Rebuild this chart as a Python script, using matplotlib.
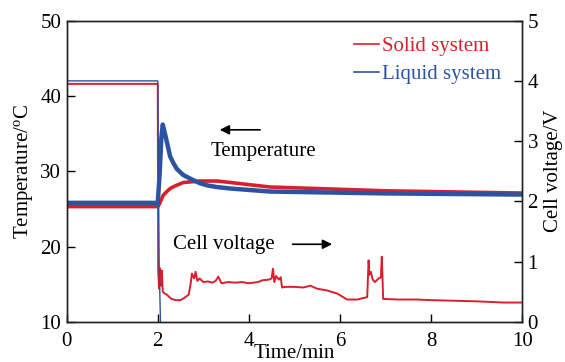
import matplotlib.pyplot as plt

plt.rcParams['font.family'] = ['Liberation Serif', 'DejaVu Serif']
plt.rcParams['mathtext.fontset'] = 'stix'

RED = '#d8202c'
BLUE = '#2b53a2'

# cell temperature (degC) vs time (min)
t_temp_solid = [0, 0.5, 1.0, 1.5, 2.0, 2.04, 2.12, 2.2, 2.27, 2.4, 2.56, 2.75, 2.93, 3.1, 3.3,
                3.6, 4.03, 4.47, 5.0, 5.5, 6.0, 7.0, 8.0, 9.0, 10]
temp_solid = [25.3, 25.3, 25.3, 25.3, 25.3, 25.7, 26.8, 27.3, 27.7, 28.1, 28.5, 28.6, 28.7, 28.7, 28.7,
              28.5, 28.2, 27.9, 27.8, 27.7, 27.6, 27.4, 27.3, 27.2, 27.1]

t_temp_liquid = [0, 0.5, 1.0, 1.5, 2.0, 2.04, 2.08, 2.11, 2.15, 2.2, 2.27, 2.35, 2.42, 2.56, 2.75,
                 2.93, 3.1, 3.3, 3.6, 4.03, 4.47, 5.0, 5.5, 6.0, 7.0, 8.0, 9.0, 10]
temp_liquid = [25.8, 25.8, 25.8, 25.8, 25.8, 29.5, 34.5, 36.2, 35.2, 33.9, 32.0, 31.0, 30.3, 29.5, 28.9,
               28.4, 28.1, 27.9, 27.7, 27.5, 27.3, 27.25, 27.2, 27.15, 27.05, 27.0, 26.95, 26.9]

# cell voltage (V) vs time (min)
t_volt_solid = [0, 2.0, 2.01, 2.03, 2.05, 2.07, 2.09, 2.11, 2.15, 2.2, 2.3, 2.4, 2.5, 2.57, 2.68,
                2.72, 2.75, 2.8, 2.83, 2.87, 2.92, 3.0, 3.1, 3.2, 3.27, 3.33, 3.4, 3.55, 3.7,
                3.85, 4.0, 4.2, 4.3, 4.44, 4.5, 4.53, 4.56, 4.6, 4.66, 4.7, 4.73, 4.8, 5.0,
                5.2, 5.35, 5.5, 5.72, 5.94, 6.16, 6.38, 6.6, 6.63, 6.65, 6.68, 6.72, 6.77,
                6.85, 6.9, 6.92, 6.95, 7.3, 7.7, 8.0, 8.5, 9.0, 9.3, 9.6, 10]
volt_solid = [3.95, 3.95, 0.85, 0.55, 0.89, 0.60, 0.85, 0.50, 0.47, 0.45, 0.38, 0.36, 0.36, 0.39, 0.45,
              0.62, 0.80, 0.72, 0.83, 0.68, 0.72, 0.66, 0.67, 0.65, 0.68, 0.75, 0.64, 0.66, 0.65,
              0.66, 0.64, 0.66, 0.69, 0.70, 0.72, 0.88, 0.66, 0.76, 0.70, 0.74, 0.57, 0.58, 0.58,
              0.57, 0.60, 0.55, 0.52, 0.47, 0.37, 0.37, 0.41, 1.02, 0.78, 0.83, 0.70, 0.66,
              0.72, 0.74, 1.08, 0.38, 0.37, 0.37, 0.36, 0.35, 0.34, 0.33, 0.32, 0.32]

t_volt_liquid = [0, 2.0, 2.03, 2.06]
volt_liquid = [4.0, 4.0, 1.0, 0.0]

fig = plt.figure(figsize=(5.65, 3.62), dpi=100)
ax = fig.add_axes([0.118, 0.111, 0.806, 0.832])
ax2 = ax.twinx()

ax2.plot(t_volt_solid, volt_solid, color=RED, lw=1.4)
ax2.plot(t_volt_liquid, volt_liquid, color=BLUE, lw=1.0)

ax.plot(t_temp_solid, temp_solid, color=RED, lw=2.6, label='Solid system')
ax.plot(t_temp_liquid, temp_liquid, color=BLUE, lw=3.2, label='Liquid system')

ax.set_xlim(0, 10)
ax.set_ylim(10, 50)
ax2.set_ylim(0, 5)
ax.set_xticks([0, 2, 4, 6, 8, 10])
ax.set_yticks([10, 20, 30, 40, 50])
ax2.set_yticks([0, 1, 2, 3, 4, 5])

ax.set_xlabel('Time/min', fontsize=15, labelpad=-5)
ax.set_ylabel('Temperature/$\\mathregular{^oC}$', fontsize=15, labelpad=4)
ax2.set_ylabel('Cell voltage/V', fontsize=15, labelpad=4)

for a in (ax, ax2):
    a.tick_params(direction='in', length=6, width=1, labelsize=15, pad=4)
    for s in a.spines.values():
        s.set_linewidth(1.0)
        s.set_color('#222222')
ax.tick_params(axis='y', right=False)
ax.tick_params(axis='x', pad=7)

ax.annotate('', xy=(3.30, 35.5), xytext=(4.31, 35.5),
            arrowprops=dict(arrowstyle='-|>', color='black', lw=1.2, mutation_scale=14))
ax.text(4.33, 32.6, 'Temperature', fontsize=15, ha='center', va='center')
ax.annotate('', xy=(5.89, 20.3), xytext=(4.90, 20.3),
            arrowprops=dict(arrowstyle='-|>', color='black', lw=1.2, mutation_scale=14))
ax.text(3.46, 20.3, 'Cell voltage', fontsize=15, ha='center', va='center')

leg = ax.legend(loc='upper right', bbox_to_anchor=(0.955, 0.948), frameon=False,
                fontsize=15, handlelength=1.2, handletextpad=0.15, labelspacing=0.4,
                borderaxespad=0, borderpad=0, labelcolor='linecolor')
for h in leg.get_lines():
    h.set_linewidth(1.2)

fig.savefig('out.png', dpi=100)
